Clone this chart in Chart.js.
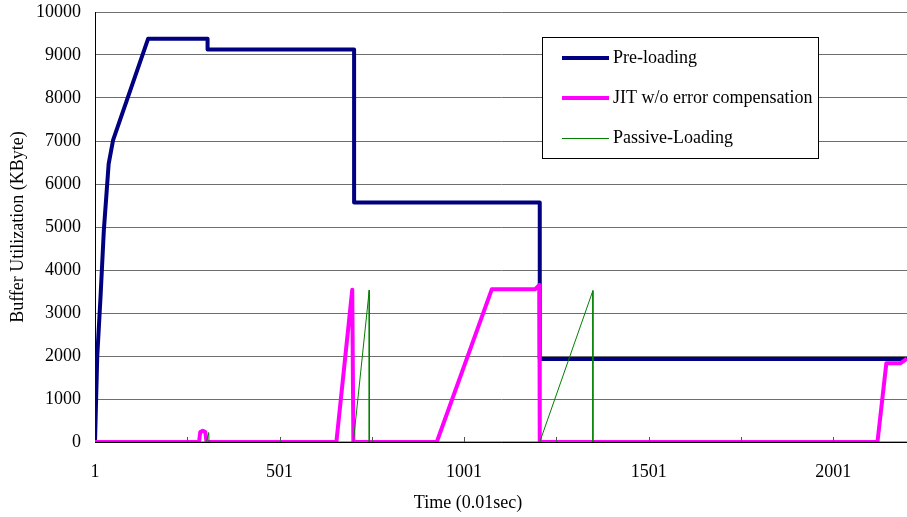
<!DOCTYPE html>
<html>
<head>
<meta charset="utf-8">
<script src="https://cdn.jsdelivr.net/npm/chart.js@4.4.0/dist/chart.umd.min.js"></script>
<style>
  html, body { margin: 0; padding: 0; background: #fff; }
  #wrap { width: 907px; height: 517px; }
</style>
</head>
<body>
<div id="wrap"><canvas id="my-chart" width="907" height="517"></canvas></div>
<script>
'use strict';

// series labels
let seriesNames = ['Pre-loading', 'JIT w/o error compensation', 'Passive-Loading'];

// Pre-loading (time, KByte)
let preX = [1, 7, 16, 25, 38, 50, 145, 306, 306, 703, 703, 1206, 1206, 2201];
let preY = [0, 1980, 3380, 4930, 6470, 7020, 9380, 9380, 9130, 9130, 5570, 5570, 1930, 1930];

// JIT w/o error compensation
let jitX = [1, 283, 286, 293, 300, 303, 655, 698, 701, 927, 1076, 1193, 1205, 1206, 2121, 2145, 2183, 2201];
let jitY = [0, 0, 230, 260, 230, 0, 0, 3540, 0, 0, 3550, 3550, 3650, 0, 0, 1830, 1830, 1940];

// Passive-Loading
let passX = [1, 303, 309, 310, 701, 744, 744, 1206, 1350, 1350, 2201];
let passY = [0, 0, 220, 0, 0, 3530, 0, 0, 3520, 0, 0];

// axis ticks
let xTicks = [1, 251, 501, 751, 1001, 1251, 1501, 1751, 2001];
let xLabels = [1, 501, 1001, 1501, 2001];
let yTicks = [0, 1000, 2000, 3000, 4000, 5000, 6000, 7000, 8000, 9000, 10000];

let colors = ['#000080', '#ff00ff', '#008000'];
let widths = [4, 4, 1];

const FONT = '"Liberation Serif", "Times New Roman", serif';

function toPoints(xs, ys){
  let pts = [];
  for (let i = 0; i < xs.length; i++){
    pts.push({x: xs[i], y: ys[i]});
  }
  return pts;
}

// small tick marks inside the plot, x axis title, legend box
let extrasPlugin = {
  id: 'extras',
  afterDatasetsDraw(chart){
    let ctx = chart.ctx;
    let xs = chart.scales.x;
    let area = chart.chartArea;
    ctx.save();
    ctx.strokeStyle = '#555';
    ctx.lineWidth = 1;
    for (let i = 1; i < xTicks.length; i++){
      let px = Math.round(xs.getPixelForValue(xTicks[i])) + 0.5;
      ctx.beginPath();
      ctx.moveTo(px, area.bottom);
      ctx.lineTo(px, area.bottom - 5);
      ctx.stroke();
    }
    ctx.restore();
  },
  afterDraw(chart){
    let ctx = chart.ctx;
    ctx.save();
    // x title
    ctx.fillStyle = '#000';
    ctx.font = '18px ' + FONT;
    ctx.textAlign = 'center';
    ctx.textBaseline = 'middle';
    ctx.fillText('Time (0.01sec)', 468, 503);

    // legend
    let lx = 542.5, ly = 37.5, lw = 276, lh = 121;
    ctx.fillStyle = '#fff';
    ctx.fillRect(lx, ly, lw, lh);
    ctx.strokeStyle = '#000';
    ctx.lineWidth = 1;
    ctx.strokeRect(lx, ly, lw, lh);
    let rows = [58, 98, 138];
    ctx.textAlign = 'left';
    for (let i = 0; i < seriesNames.length; i++){
      ctx.strokeStyle = colors[i];
      ctx.lineWidth = widths[i] === 1 ? 1 : 4;
      ctx.beginPath();
      ctx.moveTo(562, rows[i] + (widths[i] === 1 ? 0.5 : 0));
      ctx.lineTo(609, rows[i] + (widths[i] === 1 ? 0.5 : 0));
      ctx.stroke();
      ctx.fillStyle = '#000';
      ctx.fillText(seriesNames[i], 613, rows[i]);
    }
    ctx.restore();
  }
};

const ctx = document.getElementById('my-chart').getContext('2d');

let chartData = {
  type: 'scatter',
  data: {
    datasets: [
      {label: seriesNames[0], data: toPoints(preX, preY), borderColor: colors[0], borderWidth: widths[0], order: 3},
      {label: seriesNames[1], data: toPoints(jitX, jitY), borderColor: colors[1], borderWidth: widths[1], order: 2},
      {label: seriesNames[2], data: toPoints(passX, passY), borderColor: colors[2], borderWidth: widths[2], order: 1}
    ].map(function(d){
      d.showLine = true;
      d.pointRadius = 0;
      d.pointHoverRadius = 0;
      d.tension = 0;
      d.fill = false;
      d.borderJoinStyle = 'round';
      return d;
    })
  },
  options: {
    responsive: false,
    animation: false,
    events: [],
    layout: { padding: { top: 12, right: 0, left: 0, bottom: 0 } },
    plugins: { legend: { display: false }, tooltip: { enabled: false } },
    scales: {
      x: {
        type: 'linear',
        min: 1,
        max: 2201,
        afterBuildTicks(scale){
          scale.ticks = xTicks.map(function(v){ return {value: v}; });
        },
        afterFit(scale){
          scale.height = 75;
          scale.paddingLeft = 0;
          scale.paddingRight = 0;
        },
        grid: { drawOnChartArea: false, drawTicks: false },
        border: { display: true, color: '#000', width: 1 },
        ticks: {
          autoSkip: false,
          maxRotation: 0,
          padding: 19,
          color: '#000',
          font: { family: FONT, size: 18 },
          callback: function(v){ return xLabels.includes(v) ? String(v) : ''; }
        }
      },
      y: {
        min: 0,
        max: 10000,
        afterBuildTicks(scale){
          scale.ticks = yTicks.map(function(v){ return {value: v}; });
        },
        afterFit(scale){
          scale.width = 95;
          scale.paddingTop = 0;
          scale.paddingBottom = 0;
        },
        grid: { color: '#6e6e6e', lineWidth: 1, drawTicks: false },
        border: { display: true, color: '#000', width: 1 },
        ticks: {
          padding: 14,
          color: '#000',
          font: { family: FONT, size: 18 },
          callback: function(v){ return String(v); }
        },
        title: {
          display: true,
          text: 'Buffer Utilization (KByte)',
          color: '#000',
          font: { family: FONT, size: 18 },
          padding: { top: 7, bottom: 0 }
        }
      }
    }
  },
  plugins: [extrasPlugin]
};

new Chart(ctx, chartData);
</script>
</body>
</html>
